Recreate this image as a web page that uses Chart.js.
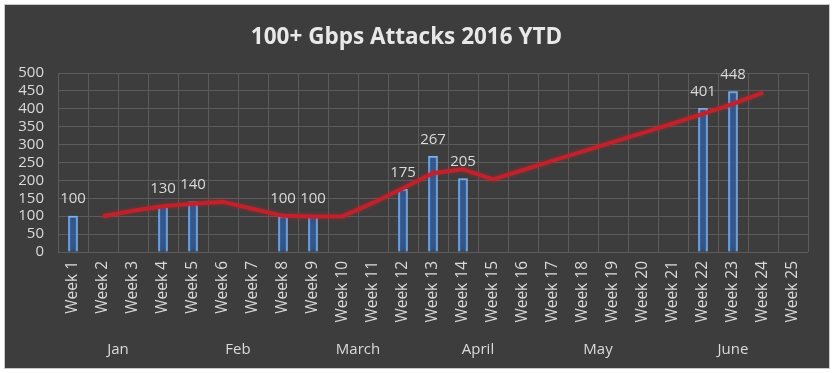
<!DOCTYPE html>
<html>
<head>
<meta charset="utf-8">
<script src="https://cdn.jsdelivr.net/npm/chart.js@4.4.1/dist/chart.umd.min.js"></script>
<style>
  html, body { margin: 0; padding: 0; background: #ffffff; }
  #box {
    position: absolute; left: 5px; top: 5px; width: 824px; height: 363px;
    background: #3d3d3d; box-shadow: 0 0 0 1px #c9c9c9;
  }
</style>
</head>
<body>
<div id="box"><canvas id="myChart" width="824" height="363"></canvas></div>
<script>
// weeks 1..25
const weeks = [];
for (let i = 1; i <= 25; i++) weeks.push("Week " + i);

// attacks per week (only weeks with attacks)
const attacks = [100, null, null, 130, 140, null, null, 100, 100, null, null, 175,
  267, 205, null, null, null, null, null, null, null, 401, 448, null, null];

// red trend line
const trend = [null, 100, 115, 128, 135, 140, 120, 101, 99, 100, 137, 178,
  220, 231, 203, 229, 255, 281, 307, 333, 359, 386, 414, 445, null];

const months = ["Jan", "Feb", "March", "April", "May", "June"];
const monthWeeks = [4, 4, 4, 4, 4, 5];

const yTicks = [0, 50, 100, 150, 200, 250, 300, 350, 400, 450, 500];

const textColor = "#dadada";
const gridColor = "#5c5c5c";
const font = "'Open Sans', 'DejaVu Sans', sans-serif";

// glow behind the bars and the line
const glow = {
  id: "glow",
  beforeDatasetDraw(chart, args) {
    const ctx = chart.ctx;
    ctx.save();
    if (args.index === 0) {
      ctx.shadowColor = "rgba(70,150,255,0.95)";
      ctx.shadowBlur = 8;
    } else {
      ctx.shadowColor = "rgba(220,30,40,0.5)";
      ctx.shadowBlur = 4;
    }
  },
  afterDatasetDraw(chart) {
    chart.ctx.restore();
  },
};

// value labels above bars
const barLabels = {
  id: "barLabels",
  afterDatasetsDraw(chart) {
    const ctx = chart.ctx;
    const meta = chart.getDatasetMeta(0);
    ctx.save();
    ctx.fillStyle = textColor;
    ctx.font = "15px " + font;
    ctx.textAlign = "center";
    ctx.textBaseline = "middle";
    meta.data.forEach((bar, i) => {
      const v = attacks[i];
      if (v === null) return;
      ctx.fillText(String(v), bar.x, bar.y - 17);
    });
    ctx.restore();
  },
};

// month group labels under the week labels
const monthLabels = {
  id: "monthLabels",
  afterDraw(chart) {
    const ctx = chart.ctx;
    const x = chart.scales.x;
    ctx.save();
    ctx.fillStyle = textColor;
    ctx.font = "15px " + font;
    ctx.textAlign = "center";
    ctx.textBaseline = "middle";
    let start = 0;
    months.forEach((m, i) => {
      const end = start + monthWeeks[i] - 1;
      const cx = (x.getPixelForValue(start) + x.getPixelForValue(end)) / 2;
      ctx.fillText(m, cx, x.bottom - 18);
      start = end + 1;
    });
    ctx.restore();
  },
};

const ctx = document.getElementById("myChart");

const chart = new Chart(ctx, {
  data: {
    labels: weeks,
    datasets: [
      {
        type: "bar",
        data: attacks,
        backgroundColor: "rgba(40,75,130,0.55)",
        borderColor: "#86b8ee",
        borderWidth: 1.5,
        barThickness: 9,
        order: 2,
      },
      {
        type: "line",
        data: trend,
        borderColor: "#c0212b",
        borderWidth: 4,
        pointRadius: 0,
        tension: 0,
        spanGaps: false,
        order: 1,
      },
    ],
  },
  options: {
    responsive: false,
    animation: false,
    layout: { padding: { left: 0, right: 21, top: 0, bottom: 0 } },
    plugins: {
      legend: { display: false },
      tooltip: { enabled: false },
      title: {
        display: true,
        text: "100+ Gbps Attacks 2016 YTD",
        color: "#e8e8e8",
        font: { family: font, size: 22.5, weight: "bold" },
        padding: { top: 19, bottom: 22 },
      },
    },
    scales: {
      x: {
        offset: true,
        grid: { color: gridColor, offset: true, drawTicks: false },
        border: { display: false },
        ticks: {
          color: textColor,
          font: { family: font, size: 15.5 },
          minRotation: 90,
          maxRotation: 90,
          autoSkip: false,
          padding: 9,
        },
        afterFit(scale) {
          scale.height = 116;
        },
      },
      y: {
        min: 0,
        max: 500,
        grid: { color: gridColor, drawTicks: false },
        border: { display: false },
        afterBuildTicks(scale) {
          scale.ticks = yTicks.map((v) => ({ value: v }));
        },
        ticks: {
          color: textColor,
          font: { family: font, size: 15 },
          autoSkip: false,
          padding: 14,
        },
        afterFit(scale) {
          scale.width = 53;
        },
      },
    },
  },
  plugins: [glow, barLabels, monthLabels],
});
</script>
</body>
</html>
